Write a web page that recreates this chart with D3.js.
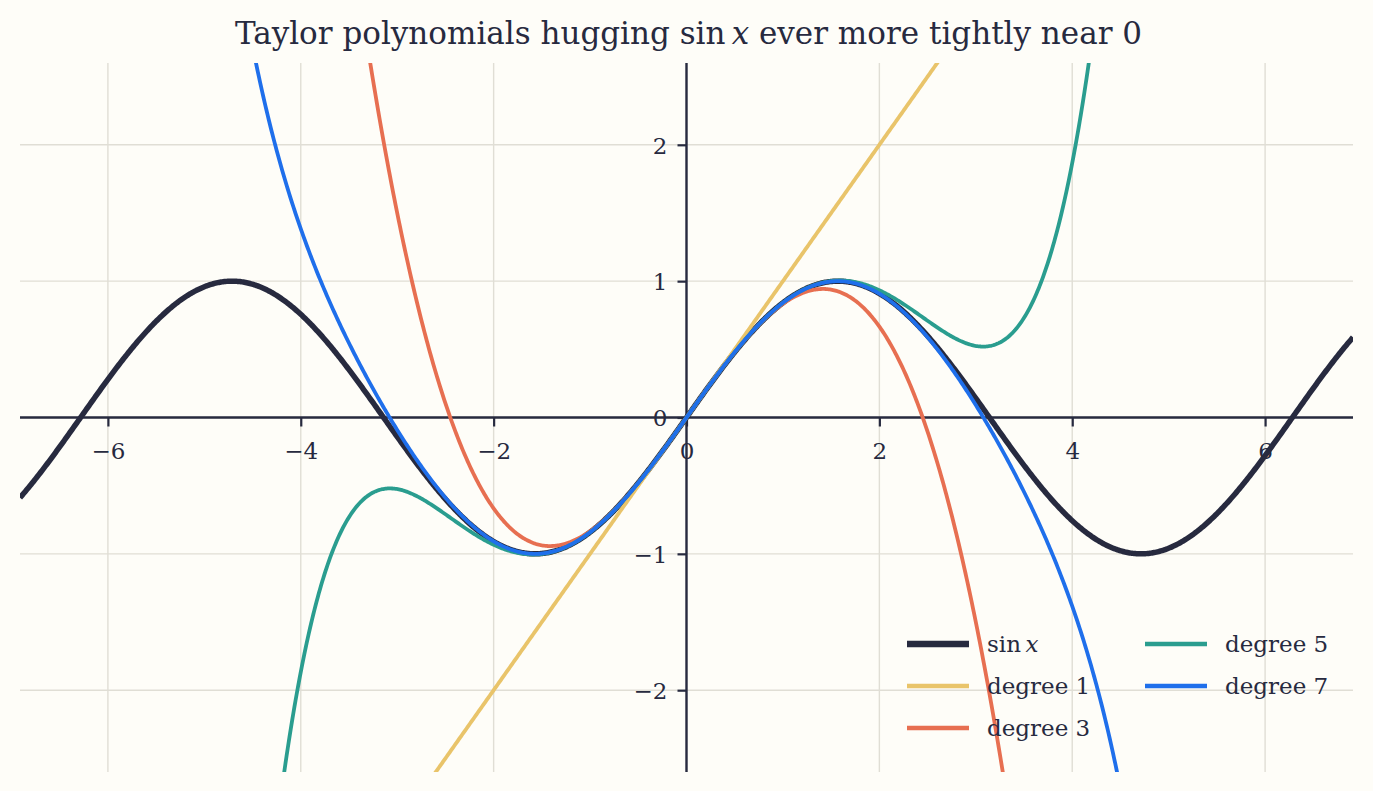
<!DOCTYPE html>
<html>
<head>
<meta charset="utf-8">
<script src="https://cdn.jsdelivr.net/npm/d3@7"></script>
<style>
  html, body { margin: 0; padding: 0; background: #fefdf8; }
  svg { display: block; }
  text { font-family: "DejaVu Serif", "Liberation Serif", serif; fill: #272a3f; }
</style>
</head>
<body>
<div id="chart"></div>
<script>
// ── data ─────────────────────────────────────────────
var xDomain = [-2.2 * Math.PI, 2.2 * Math.PI];
var yDomain = [-2.6, 2.6];
var xTicks = [-6, -4, -2, 0, 2, 4, 6];
var yTicks = [-2, -1, 0, 1, 2];

// Taylor coefficients of sin x for x^1, x^3, x^5, x^7
var taylorCoefs = [1, -1 / 6, 1 / 120, -1 / 5040];
var taylorDegrees = [1, 3, 5, 7];
var taylorLabels = ['degree 1', 'degree 3', 'degree 5', 'degree 7'];
var taylorColors = ['#e9c46a', '#e76f51', '#2a9d8f', '#1f6feb'];

var sinColor = '#272a3f';
var nSamples = 1200;

// ── layout ───────────────────────────────────────────
var W = 1373, H = 791;
var margin = { top: 63, right: 20, bottom: 19, left: 20 };

var svg = d3.select('#chart').append('svg')
  .attr('width', W).attr('height', H);

svg.append('rect').attr('width', W).attr('height', H).attr('fill', '#fefdf8');

var x = d3.scaleLinear().domain(xDomain).range([margin.left, W - margin.right]);
var y = d3.scaleLinear().domain(yDomain).range([H - margin.bottom, margin.top]);

// grid
var grid = svg.append('g').attr('stroke', '#e0ded5').attr('stroke-width', 1.4);
grid.selectAll('line.gx').data(xTicks).join('line')
  .attr('x1', function(d) { return x(d); }).attr('x2', function(d) { return x(d); })
  .attr('y1', y.range()[1]).attr('y2', y.range()[0]);
grid.selectAll('line.gy').data(yTicks).join('line')
  .attr('y1', function(d) { return y(d); }).attr('y2', function(d) { return y(d); })
  .attr('x1', x.range()[0]).attr('x2', x.range()[1]);

// axes through the origin
function fmt(d) { return d < 0 ? '\u2212' + Math.abs(d) : String(d); }

var xAxis = svg.append('g')
  .attr('transform', 'translate(0,' + y(0) + ')')
  .call(d3.axisBottom(x).tickValues(xTicks).tickSize(9).tickPadding(16).tickFormat(fmt));
var yAxis = svg.append('g')
  .attr('transform', 'translate(' + x(0) + ',0)')
  .call(d3.axisLeft(y).tickValues(yTicks).tickSize(9).tickPadding(10).tickFormat(fmt));

[xAxis, yAxis].forEach(function(a) {
  a.select('.domain').attr('stroke', sinColor).attr('stroke-width', 2.4);
  a.selectAll('.tick line').attr('stroke', sinColor).attr('stroke-width', 2.2);
  a.selectAll('.tick text').style('font-size', '23px').attr('fill', sinColor);
});
xAxis.select('.domain').attr('d', 'M' + x.range()[0] + ',0H' + x.range()[1]);
yAxis.select('.domain').attr('d', 'M0,' + y.range()[1] + 'V' + y.range()[0]);
yAxis.selectAll('.tick text').attr('dy', '0.36em');

// curves
svg.append('clipPath').attr('id', 'plotclip').append('rect')
  .attr('x', margin.left).attr('y', margin.top)
  .attr('width', W - margin.left - margin.right)
  .attr('height', H - margin.top - margin.bottom);

var xs = d3.range(nSamples + 1).map(function(i) {
  return xDomain[0] + (xDomain[1] - xDomain[0]) * i / nSamples;
});

function taylor(deg) {
  return function(v) {
    var s = 0;
    for (var k = 0; 2 * k + 1 <= deg; k++) s += taylorCoefs[k] * Math.pow(v, 2 * k + 1);
    return s;
  };
}

var line = d3.line()
  .x(function(d) { return x(d[0]); })
  .y(function(d) { return y(Math.max(-8, Math.min(8, d[1]))); });

var curves = svg.append('g').attr('clip-path', 'url(#plotclip)').attr('fill', 'none');

curves.append('path')
  .attr('d', line(xs.map(function(v) { return [v, Math.sin(v)]; })))
  .attr('stroke', sinColor).attr('stroke-width', 5.5);

taylorDegrees.forEach(function(deg, i) {
  var f = taylor(deg);
  curves.append('path')
    .attr('d', line(xs.map(function(v) { return [v, f(v)]; })))
    .attr('stroke', taylorColors[i]).attr('stroke-width', 3.8);
});

// title
var title = svg.append('text')
  .attr('x', W / 2 + 2).attr('y', 44)
  .attr('text-anchor', 'middle')
  .style('font-size', '31px');
title.append('tspan').text('Taylor polynomials hugging sin\u2009');
title.append('tspan').style('font-style', 'italic').text('x');
title.append('tspan').text(' ever more tightly near 0');

// legend
var legendItems = [{ label: 'sin', italic: 'x', color: sinColor, width: 6.5 }]
  .concat(taylorLabels.map(function(l, i) {
    return { label: l, italic: null, color: taylorColors[i], width: 4.6 };
  }));

var legend = svg.append('g');
legendItems.forEach(function(d, i) {
  var col = i < 3 ? 0 : 1;
  var row = i < 3 ? i : i - 3;
  var g = legend.append('g')
    .attr('transform', 'translate(' + (907 + col * 238) + ',' + (644 + row * 42) + ')');
  g.append('line').attr('x1', 0).attr('x2', 62)
    .attr('stroke', d.color).attr('stroke-width', d.width);
  var t = g.append('text').attr('x', 80).attr('dy', '0.35em').style('font-size', '23px');
  t.append('tspan').text(d.label);
  if (d.italic) t.append('tspan').style('font-style', 'italic').text('\u2009' + d.italic);
});
</script>
</body>
</html>
